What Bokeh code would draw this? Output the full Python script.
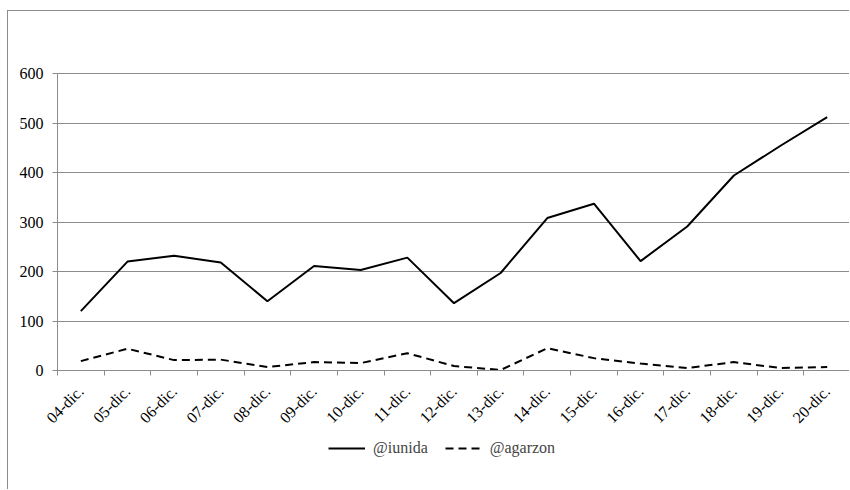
import math
from bokeh.plotting import figure
from bokeh.models import FixedTicker, Range1d, Legend, LegendItem
from bokeh.core.properties import value
from bokeh.embed import file_html
from bokeh.resources import INLINE

dates = ["04-dic.", "05-dic.", "06-dic.", "07-dic.", "08-dic.", "09-dic.", "10-dic.",
         "11-dic.", "12-dic.", "13-dic.", "14-dic.", "15-dic.", "16-dic.", "17-dic.",
         "18-dic.", "19-dic.", "20-dic."]
iunida = [120, 220, 232, 218, 140, 211, 203, 228, 136, 197, 308, 337, 221, 291, 394, 454, 512]
agarzon = [19, 44, 21, 22, 7, 17, 15, 35, 9, 1, 45, 25, 14, 5, 17, 5, 7]
y_ticks = [0, 100, 200, 300, 400, 500, 600]

GRAY = "#8c8c8c"
FONT = "'Liberation Serif', serif"

n = len(dates)
xc = [i + 0.5 for i in range(n)]
ymax = y_ticks[-1]

# page layout: frame spans page x 8..850, y 11..490;
# plot area (0..n, 0..600) spans page x 57..850, y 73..370
fx0, fx1, fy0, fy1 = 8, 850, 11, 490
ax0, ax1, ay_top, ay0 = 57, 850, 73, 370
xs = (ax1 - ax0) / n
ys = (ay0 - ay_top) / ymax
x_start = -(ax0 - fx0) / xs
y_start = -(fy1 - ay0) / ys
y_end = (ay0 - fy0) / ys

p = figure(width=fx1 - fx0, height=fy1 - fy0, output_backend="svg", toolbar_location=None,
           x_range=Range1d(x_start, n), y_range=Range1d(y_start, y_end),
           min_border_left=0, min_border_right=0, min_border_top=0, min_border_bottom=0,
           styles={"margin-left": "7px", "margin-top": "10px",
                   "border-left": "1px solid " + GRAY, "border-top": "1px solid " + GRAY})
p.outline_line_color = None
p.background_fill_color = "white"
p.border_fill_color = "white"

# horizontal gridlines limited to the plot area
grid_ok = False
try:
    if "cross_bounds" in p.ygrid[0].properties():
        p.ygrid.cross_bounds = (0, n)
        grid_ok = True
except Exception:
    grid_ok = False
p.xgrid.visible = False
if grid_ok:
    p.ygrid.grid_line_color = GRAY
    p.ygrid.grid_line_alpha = 1.0
    p.ygrid.ticker = FixedTicker(ticks=y_ticks)
else:
    p.ygrid.visible = False
    p.segment(x0=[0] * len(y_ticks), x1=[n] * len(y_ticks), y0=y_ticks, y1=y_ticks,
              line_color=GRAY, line_width=1)

r1 = p.line(xc, iunida, line_color="black", line_width=2)
r2 = p.line(xc, agarzon, line_color="black", line_width=2, line_dash="8 5")

# x axis drawn at y = 0
p.xaxis.fixed_location = 0
p.xaxis.bounds = (0, n)
p.xaxis.ticker = FixedTicker(ticks=xc, minor_ticks=list(range(n + 1)))
p.xaxis.major_label_overrides = {x: d for x, d in zip(xc, dates)}
p.xaxis.major_label_orientation = math.pi / 4
p.xaxis.major_tick_out = 0
p.xaxis.major_tick_in = 0
p.xaxis.minor_tick_out = 5
p.xaxis.minor_tick_in = 0
p.xaxis.minor_tick_line_color = GRAY
p.xaxis.axis_line_color = GRAY
p.xaxis.major_label_standoff = 13

# y axis drawn at x = 0
p.yaxis.fixed_location = 0
p.yaxis.ticker = FixedTicker(ticks=y_ticks)
p.yaxis.bounds = (0, ymax)
p.yaxis.major_tick_out = 5
p.yaxis.major_tick_in = 0
p.yaxis.minor_tick_line_color = None
p.yaxis.major_tick_line_color = GRAY
p.yaxis.axis_line_color = GRAY
p.yaxis.major_label_standoff = 9

for ax in (p.xaxis, p.yaxis):
    ax.major_label_text_font = FONT
    ax.major_label_text_font_size = "16px"
    ax.major_label_text_color = "black"

legend = Legend(items=[LegendItem(label=value("@iunida"), renderers=[r1]),
                       LegendItem(label=value("@agarzon"), renderers=[r2])],
                orientation="horizontal", location=(320, 32),
                border_line_color=None, background_fill_alpha=0,
                padding=0, margin=0, glyph_width=37, label_standoff=8, spacing=17,
                label_text_font=FONT, label_text_font_size="16px")
p.add_layout(legend)

open("out.html", "w").write(file_html(p, INLINE))
